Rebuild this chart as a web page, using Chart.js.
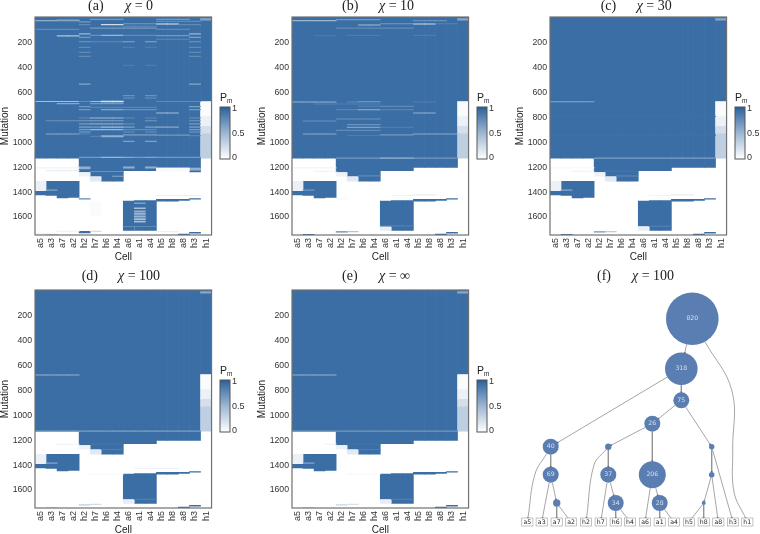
<!DOCTYPE html>
<html>
<head>
<meta charset="utf-8">
<script src="https://cdn.jsdelivr.net/npm/chart.js@4"></script>
<style>
html, body { margin: 0; background: #fff; overflow: hidden; width: 760px; height: 534px; }
.box { position: absolute; filter: blur(0.35px); }
.title { position: absolute; font: 14px "Liberation Serif", serif; color: #222; white-space: pre; line-height: 16px; }
.title i { font-style: italic; }
.pm { position: absolute; font: 10.5px "Liberation Sans", sans-serif; color: #222; line-height: 12px; }
.pm sub { font-size: 6.5px; vertical-align: -2px; line-height: 0; }
</style>
</head>
<body>
<script>
// Heatmap data
const cells = ["a5", "a3", "a7", "a2", "h2", "h7", "h6", "h4", "a6", "a1", "a4", "h5", "h8", "a8", "h3", "h1"];
const mutationTicks = [200, 400, 600, 800, 1000, 1200, 1400, 1600];
const colorbarTicks = [0, 0.5, 1];

// [first cell, last cell, from mutation, to mutation, Pm]
const sharedBlocks = [
    [0, 14, 1, 1135, 1], [15, 15, 1, 680, 1], [15, 15, 14, 26, 0.6],
    [15, 15, 680, 800, 0.03], [15, 15, 800, 880, 0.1], [15, 15, 880, 940, 0.22], [15, 15, 940, 1135, 0.33],
    [4, 4, 1135, 1245, 1], [5, 5, 1135, 1280, 1], [6, 7, 1135, 1320, 1], [8, 10, 1135, 1235, 1], [11, 14, 1135, 1210, 1],
    [1, 1, 1320, 1435, 1], [2, 2, 1320, 1455, 1], [3, 3, 1320, 1450, 1], [0, 0, 1395, 1430, 1], [0, 0, 1320, 1395, 0.1],
    [8, 8, 1480, 1680, 1], [9, 10, 1475, 1715, 1], [11, 12, 1465, 1480, 1], [13, 13, 1465, 1475, 1], [14, 14, 1460, 1465, 1],
    [13, 13, 1745, 1752, 1], [14, 14, 1730, 1738, 1],
    [8, 8, 1690, 1715, 0.12], [4, 4, 1250, 1280, 0.08], [5, 5, 1285, 1320, 0.15]
];
const blocksA = [
    [8, 8, 1680, 1716, 1], [4, 4, 1205, 1222, 0.55], [14, 14, 1210, 1245, 1], [14, 14, 1215, 1232, 0.55],
    [8, 8, 1205, 1215, 0.55], [10, 10, 1205, 1215, 0.55], [11, 13, 1214, 1240, 0.04],
    [5, 5, 1483, 1600, 0.03], [4, 4, 1722, 1735, 1], [1, 1, 1746, 1752, 1], [9, 9, 1493, 1501, 0.65],
    [9, 9, 1533, 1541, 0.45], [9, 9, 1558, 1568, 0.55], [9, 9, 1578, 1586, 0.5], [9, 9, 1599, 1609, 0.5],
    [9, 9, 1621, 1629, 0.45], [9, 9, 1640, 1648, 0.45]
];
const blocksB = [[4, 4, 1724, 1730, 0.85], [5, 5, 1722, 1727, 0.4], [1, 1, 1746, 1752, 1]];
const blocksC = [[4, 4, 1724, 1730, 0.75], [5, 5, 1722, 1727, 0.35], [1, 1, 1746, 1752, 1]];
const blocksD = [[4, 4, 1724, 1729, 0.35], [5, 5, 1721, 1725, 0.25], [1, 1, 1747, 1752, 0.25]];
const blocksE = [[4, 4, 1724, 1729, 0.3], [5, 5, 1721, 1725, 0.2], [1, 1, 1747, 1752, 0.25]];

// Pale rows through the solid upper part: [first cell, last cell, mutation, how far Pm falls below 1]
const fadesA = [
    [0, 3, 30, 0.45], [2, 3, 24, 0.3], [5, 7, 20, 0.3], [11, 13, 20, 0.3], [11, 14, 36, 0.2], [4, 4, 40, 0.3],
    [6, 7, 62, 0.75], [11, 12, 57, 0.85], [8, 10, 55, 0.3], [4, 4, 62, 0.2], [13, 14, 62, 0.2], [8, 10, 75, 0.2],
    [5, 10, 90, 0.3], [0, 3, 100, 0.2], [11, 13, 100, 0.2], [4, 4, 137, 0.5], [14, 14, 137, 0.5], [6, 7, 148, 0.5],
    [5, 5, 148, 0.25], [8, 10, 148, 0.2], [11, 13, 150, 0.3], [2, 3, 153, 0.6], [14, 14, 165, 0.35], [4, 4, 165, 0.3],
    [11, 13, 180, 0.2], [4, 4, 200, 0.3], [5, 7, 200, 0.2], [8, 8, 200, 0.4], [10, 10, 200, 0.4], [14, 14, 200, 0.3],
    [4, 4, 245, 0.2], [14, 14, 245, 0.2], [8, 8, 245, 0.1], [10, 10, 245, 0.1], [4, 4, 285, 0.2], [14, 14, 285, 0.2],
    [4, 4, 317, 0.2], [14, 14, 317, 0.2], [8, 8, 390, 0.1], [10, 10, 390, 0.1], [4, 4, 540, 0.4], [14, 14, 540, 0.4],
    [8, 8, 633, 0.25], [10, 10, 633, 0.25], [8, 8, 652, 0.2], [10, 10, 652, 0.2],
    [0, 3, 680, 0.55], [5, 5, 680, 0.55], [6, 7, 678, 0.85], [6, 7, 682, 0.85], [11, 13, 680, 0.2], [4, 4, 680, 0.2], [14, 14, 680, 0.2],
    [2, 3, 697, 0.4], [5, 7, 697, 0.3], [4, 4, 721, 0.3], [14, 14, 721, 0.35], [5, 7, 727, 0.15], [8, 10, 727, 0.15],
    [6, 7, 745, 0.4], [4, 4, 745, 0.3], [14, 14, 745, 0.3], [8, 10, 745, 0.25], [11, 12, 772, 0.55],
    [4, 4, 812, 0.2], [5, 7, 812, 0.5], [8, 8, 812, 0.2], [10, 10, 812, 0.2], [14, 14, 812, 0.25],
    [1, 3, 834, 0.25], [4, 4, 834, 0.3], [5, 7, 834, 0.35], [10, 10, 834, 0.3], [14, 14, 834, 0.3],
    [5, 7, 860, 0.4], [4, 4, 860, 0.3], [14, 14, 860, 0.3], [8, 8, 860, 0.2],
    [6, 7, 885, 0.55], [5, 5, 885, 0.3], [8, 8, 885, 0.35], [10, 10, 885, 0.35], [11, 12, 885, 0.4], [4, 4, 885, 0.35], [14, 14, 885, 0.35],
    [5, 7, 906, 0.5], [4, 4, 906, 0.3], [14, 14, 906, 0.3], [8, 10, 906, 0.2], [4, 4, 925, 0.35], [14, 14, 925, 0.3], [8, 8, 925, 0.25], [10, 10, 925, 0.25],
    [1, 3, 941, 0.4], [4, 4, 941, 0.15], [8, 10, 948, 0.35], [6, 7, 956, 0.45], [6, 7, 962, 0.45], [5, 5, 960, 0.15], [11, 13, 950, 0.3], [14, 14, 955, 0.2],
    [8, 8, 1000, 0.35], [10, 10, 1000, 0.35],
    [4, 5, 1129, 0.3], [6, 7, 1129, 0.5], [8, 8, 1129, 0.4], [9, 9, 1129, 0.3], [10, 10, 1129, 0.4], [11, 14, 1129, 0.3]
];
const fadesB = [
    [0, 3, 30, 0.5], [4, 7, 22, 0.3], [11, 13, 30, 0.25], [6, 7, 65, 0.55], [11, 12, 57, 0.75], [8, 10, 55, 0.3],
    [13, 13, 55, 0.15], [14, 14, 55, 0.15], [4, 10, 90, 0.2], [2, 3, 150, 0.08], [5, 7, 148, 0.1], [11, 12, 148, 0.1],
    [0, 3, 684, 0.45], [5, 5, 684, 0.2], [6, 7, 682, 0.35], [11, 12, 684, 0.12], [2, 3, 700, 0.15], [4, 7, 700, 0.12],
    [6, 7, 719, 0.12], [8, 10, 719, 0.2], [4, 7, 745, 0.15], [6, 7, 745, 0.35], [8, 10, 745, 0.15], [11, 12, 772, 0.45],
    [4, 7, 820, 0.25], [1, 3, 836, 0.25], [5, 7, 866, 0.25], [5, 7, 888, 0.35], [8, 10, 888, 0.1], [4, 7, 912, 0.2],
    [1, 3, 941, 0.4], [8, 10, 948, 0.3], [11, 14, 941, 0.4], [5, 7, 953, 0.1], [4, 14, 1134, 0.3], [8, 10, 1134, 0.4]
];
const fadesC = [[0, 3, 682, 0.4], [4, 14, 1134, 0.35], [0, 14, 950, 0.03], [0, 14, 800, 0.02]];
const fadesD = [[0, 3, 684, 0.45], [0, 14, 1134, 0.35]];
const fadesE = [[0, 3, 684, 0.45], [0, 14, 1134, 0.3]];

// Thin rows in the lower part: [first cell, last cell, mutation, Pm]
const streaksA = [
    [0, 3, 1213, 0.08], [1, 3, 1235, 0.12], [5, 7, 1242, 0.75], [7, 7, 1280, 0.6], [1, 1, 1392, 0.6], [4, 4, 1462, 0.8],
    [8, 10, 1684, 0.8], [11, 14, 1435, 0.1], [5, 5, 1722, 0.3], [2, 3, 1722, 0.1], [11, 12, 1725, 0.1], [0, 1, 1745, 0.1]
];
const streaksB = [
    [0, 3, 1213, 0.07], [2, 3, 1240, 0.1], [6, 7, 1277, 0.8], [1, 1, 1392, 0.7], [8, 10, 1680, 0.85],
    [11, 12, 1430, 0.12], [9, 10, 1435, 0.08], [4, 4, 1460, 0.05]
];
const streaksC = [
    [2, 3, 1240, 0.1], [0, 3, 1213, 0.04], [6, 7, 1278, 0.8], [5, 7, 1240, 0.94],
    [1, 1, 1392, 0.6], [9, 10, 1435, 0.08], [11, 12, 1430, 0.12], [9, 10, 1682, 0.85]
];
const streaksD = [
    [2, 3, 1240, 0.1], [5, 7, 1240, 0.94], [6, 7, 1282, 0.88],
    [1, 1, 1392, 0.6], [9, 10, 1435, 0.08], [11, 12, 1435, 0.1], [9, 10, 1682, 0.85], [5, 7, 1480, 0.04]
];
const streaksE = [
    [3, 3, 1240, 0.1], [5, 7, 1240, 0.95], [6, 7, 1282, 0.9],
    [1, 1, 1392, 0.6], [9, 10, 1682, 0.85], [5, 7, 1480, 0.04]
];

// Tree data: node id, x, y, radius, count label
const nodeIds = ["n820", "n318", "n75", "n26", "n40", "u1", "u2", "n69", "n37", "n206", "u3", "u4", "n34", "n28", "u5"];
const nodeX = [182.3, 171.3, 171.3, 142.3, 40.7, 98.3, 201.7, 40.7, 98.3, 142.3, 201.7, 46.7, 105.7, 149.7, 193.7];
const nodeY = [51.7, 101.7, 133.3, 156.7, 179.7, 179.7, 179.7, 207.7, 207.7, 207.7, 207.7, 236, 236, 236, 236];
const nodeR = [26.3, 16.3, 8, 8, 8, 3.2, 2.7, 8, 8, 13.5, 2.8, 3.7, 8, 8, 2];
const nodeText = ["820", "318", "75", "26", "40", "", "", "69", "37", "206", "", "", "34", "28", ""];
const leafX = [17.3, 31.7, 46.7, 61, 76, 90.7, 105.7, 120, 135, 149.7, 164, 179, 193.7, 208.3, 223, 237.3];
const leafY = 255;
// from, to, optional bend points
const treeEdges = [
    ["n820", "n318"], ["n318", "n75"], ["n318", "n40"], ["n75", "n26"], ["n75", "u2"], ["n26", "u1"], ["n26", "n206"],
    ["n40", "n69"], ["u1", "n37"], ["u2", "u3"], ["n69", "u4"], ["n37", "n34"], ["n206", "n28"], ["u3", "u5"],
    ["u4", "a7"], ["u4", "a2"], ["n34", "h6"], ["n34", "h4"], ["n28", "a1"], ["n28", "a4"], ["u5", "h8"], ["u5", "h5"],
    ["n69", "a3"], ["n37", "h7"], ["n206", "a6"], ["u3", "a8"], ["u2", "h3"],
    ["n40", "a5", [[25, 207]]], ["u1", "h2", [[84, 198]]],
    ["n820", "h1", [[222, 124], [222.7, 183], [224, 225]]]
];

const BLUE = [58, 110, 165];

function mix(p) {
    const c = BLUE.map(v => Math.round(255 + (v - 255) * p));
    return `rgb(${c[0]},${c[1]},${c[2]})`;
}

function toBars(blocks, fades, streaks) {
    const rows = blocks.concat(
        fades.map(s => [s[0], s[1], s[2] - 2, s[2] + 2, 1 - s[3]]),
        streaks.map(s => [s[0], s[1], s[2] - 2, s[2] + 2, s[3]])
    );
    const bars = [];
    const colors = [];
    rows.forEach(r => {
        for (let i = r[0]; i <= r[1]; i++) {
            bars.push({ x: cells[i], y: [r[2], r[3]] });
            colors.push(mix(r[4]));
        }
    });
    return { bars, colors };
}

// Frame round the plot area
const framePlugin = {
    id: "frame",
    afterDraw(chart, args, opts) {
        const a = chart.chartArea;
        const ctx = chart.ctx;
        ctx.save();
        ctx.strokeStyle = opts.color || "#707070";
        ctx.lineWidth = opts.width || 1.2;
        ctx.strokeRect(a.left, a.top, a.right - a.left, a.bottom - a.top);
        ctx.restore();
    }
};

function addCanvas(left, top, width, height) {
    const div = document.createElement("div");
    div.className = "box";
    div.style.cssText = `left:${left}px;top:${top}px;width:${width}px;height:${height}px`;
    const canvas = document.createElement("canvas");
    div.appendChild(canvas);
    document.body.appendChild(div);
    return canvas;
}

function addTitle(letter, chi, xLetter, xChi, yMid) {
    const a = document.createElement("div");
    a.className = "title";
    a.style.cssText = `left:${xLetter}px;top:${yMid - 8}px`;
    a.textContent = letter;
    const b = document.createElement("div");
    b.className = "title";
    b.style.cssText = `left:${xChi}px;top:${yMid - 8}px`;
    b.innerHTML = `<i>χ</i> = ${chi}`;
    document.body.appendChild(a);
    document.body.appendChild(b);
}

function makeHeatmap(left, top, blocks, fades, streaks) {
    const { bars, colors } = toBars(sharedBlocks.concat(blocks), fades, streaks);
    const xFont = { family: "'Liberation Sans', sans-serif", size: 9 };
    const tickFont = { family: "'Liberation Sans', sans-serif", size: 8.7 };
    const titleFont = { family: "'Liberation Sans', sans-serif", size: 10 };
    new Chart(addCanvas(left, top, 220, 267), {
        type: "bar",
        data: { labels: cells, datasets: [{ data: bars, backgroundColor: colors, barPercentage: 1, categoryPercentage: 1 }] },
        options: {
            responsive: true,
            maintainAspectRatio: false,
            animation: false,
            layout: { padding: { top: 17, right: 5 } },
            plugins: { legend: { display: false }, tooltip: { enabled: false } },
            scales: {
                x: {
                    grid: { display: false, drawTicks: false },
                    border: { display: false },
                    ticks: { font: xFont, color: "#333", autoSkip: false, maxRotation: 90, minRotation: 90, padding: 3 },
                    title: { display: true, text: "Cell", font: titleFont, color: "#222", padding: { top: 0, bottom: 4 } },
                    afterFit: s => { s.height = 32; }
                },
                y: {
                    type: "linear",
                    reverse: true,
                    min: 1,
                    max: 1752,
                    grid: { display: false, drawTicks: false },
                    border: { display: false },
                    ticks: { font: tickFont, color: "#333", padding: 3, labelOffset: 1, callback: v => String(v) },
                    title: { display: true, text: "Mutation", font: titleFont, color: "#222", padding: { top: -1, bottom: 0 } },
                    afterBuildTicks: s => { s.ticks = mutationTicks.map(v => ({ value: v })); },
                    afterFit: s => { s.width = 35; }
                }
            }
        },
        plugins: [framePlugin]
    });
}

function makeColorbar(left, top) {
    const tickFont = { family: "'Liberation Sans', sans-serif", size: 9 };
    new Chart(addCanvas(left - 2, top - 8, 34, 68), {
        type: "bar",
        data: {
            labels: ["Pm"],
            datasets: [{
                data: [[-0.03, 1.04]],
                barPercentage: 1,
                categoryPercentage: 1,
                backgroundColor: ctx => {
                    const a = ctx.chart.chartArea;
                    if (!a) return mix(1);
                    const g = ctx.chart.ctx.createLinearGradient(0, a.bottom, 0, a.top);
                    g.addColorStop(0, "#ffffff");
                    g.addColorStop(0.5, "#9db6d2");
                    g.addColorStop(0.93, "#3a6ea5");
                    g.addColorStop(1, "#2a5a92");
                    return g;
                }
            }]
        },
        options: {
            responsive: true,
            maintainAspectRatio: false,
            animation: false,
            layout: { padding: { top: 8, left: 2, bottom: 8 } },
            plugins: { legend: { display: false }, tooltip: { enabled: false }, frame: { color: "#555", width: 1 } },
            scales: {
                x: { display: false },
                y: {
                    position: "right",
                    min: -0.03,
                    max: 1.04,
                    grid: { display: false, drawTicks: false },
                    border: { display: false },
                    ticks: { font: tickFont, color: "#333", padding: 2, callback: v => String(v) },
                    afterBuildTicks: s => { s.ticks = colorbarTicks.map(v => ({ value: v })); },
                    afterFit: s => { s.width = 22; }
                }
            }
        },
        plugins: [framePlugin]
    });
    const pm = document.createElement("div");
    pm.className = "pm";
    pm.style.cssText = `left:${left}px;top:${top - 16}px`;
    pm.innerHTML = "P<sub>m</sub>";
    document.body.appendChild(pm);
}

// Tree panel: bubble nodes, line edges, boxed leaves
function nodePos(id) {
    const n = nodeIds.indexOf(id);
    if (n >= 0) return { x: nodeX[n], y: nodeY[n], r: nodeR[n] };
    return { x: leafX[cells.indexOf(id)], y: leafY, r: 4.2 };
}

function trim(from, toward, r) {
    const d = Math.hypot(toward.x - from.x, toward.y - from.y) || 1;
    return { x: from.x + (toward.x - from.x) * r / d, y: from.y + (toward.y - from.y) * r / d };
}

const edgeDatasets = treeEdges.map(e => {
    const a = nodePos(e[0]);
    const b = nodePos(e[1]);
    const bends = (e[2] || []).map(p => ({ x: p[0], y: p[1] }));
    const pts = [a].concat(bends, [b]);
    const start = trim(a, pts[1], a.r);
    const end = trim(b, pts[pts.length - 2], b.r);
    const data = [start].concat(bends, [end]);
    const prev = data[data.length - 2];
    const angle = Math.atan2(end.y - prev.y, end.x - prev.x) * 180 / Math.PI + 90;
    return {
        type: "line",
        data,
        borderColor: "#8f8f8f",
        backgroundColor: "#555",
        borderWidth: 0.8,
        tension: bends.length ? 0.4 : 0,
        order: 2,
        pointStyle: "triangle",
        pointRotation: angle,
        pointRadius: data.map((p, i) => (i === data.length - 1 ? 1.3 : 0)),
        pointBorderWidth: 0
    };
});

const treeLabels = {
    id: "treeLabels",
    afterDatasetsDraw(chart) {
        const ctx = chart.ctx;
        const sx = chart.scales.x;
        const sy = chart.scales.y;
        ctx.save();
        ctx.font = "6.2px 'DejaVu Sans', sans-serif";
        ctx.textAlign = "center";
        ctx.textBaseline = "middle";
        nodeText.forEach((t, i) => {
            if (!t) return;
            ctx.fillStyle = "#d5e0ee";
            ctx.fillText(t, sx.getPixelForValue(nodeX[i]), sy.getPixelForValue(nodeY[i]));
        });
        cells.forEach((c, i) => {
            const x = sx.getPixelForValue(leafX[i]);
            const y = sy.getPixelForValue(leafY);
            ctx.fillStyle = "#fff";
            ctx.strokeStyle = "#aaa";
            ctx.lineWidth = 0.7;
            ctx.fillRect(x - 5.6, y - 4, 11.2, 8);
            ctx.strokeRect(x - 5.6, y - 4, 11.2, 8);
            ctx.fillStyle = "#222";
            ctx.fillText(c, x, y + 0.3);
        });
        ctx.restore();
    }
};

function makeTree(left, top) {
    new Chart(addCanvas(left, top, 250, 267), {
        type: "bubble",
        data: {
            datasets: [{
                data: nodeIds.map((id, i) => ({ x: nodeX[i], y: nodeY[i], r: nodeR[i] })),
                backgroundColor: "#5a7eb2",
                borderWidth: 0,
                order: 1
            }].concat(edgeDatasets)
        },
        options: {
            responsive: true,
            maintainAspectRatio: false,
            animation: false,
            layout: { autoPadding: false },
            plugins: { legend: { display: false }, tooltip: { enabled: false } },
            scales: {
                x: { type: "linear", display: false, min: 0, max: 250 },
                y: { type: "linear", display: false, reverse: true, min: 0, max: 267 }
            }
        },
        plugins: [treeLabels]
    });
}

makeHeatmap(0, 0, blocksA, fadesA, streaksA);
makeHeatmap(257.3, 0, blocksB, fadesB, streaksB);
makeHeatmap(515, 0, blocksC, fadesC, streaksC);
makeHeatmap(0, 273, blocksD, fadesD, streaksD);
makeHeatmap(257.3, 273, blocksE, fadesE, streaksE);
makeTree(510, 267);

makeColorbar(220, 107);
makeColorbar(477, 107);
makeColorbar(735, 107);
makeColorbar(220, 380);
makeColorbar(477, 380);

addTitle("(a)", "0", 88, 125, 6);
addTitle("(b)", "10", 342, 379, 6);
addTitle("(c)", "30", 600.7, 636.7, 6);
addTitle("(d)", "100", 81.7, 118, 276);
addTitle("(e)", "∞", 342, 379, 276);
addTitle("(f)", "100", 597, 632, 276);
</script>
</body>
</html>
